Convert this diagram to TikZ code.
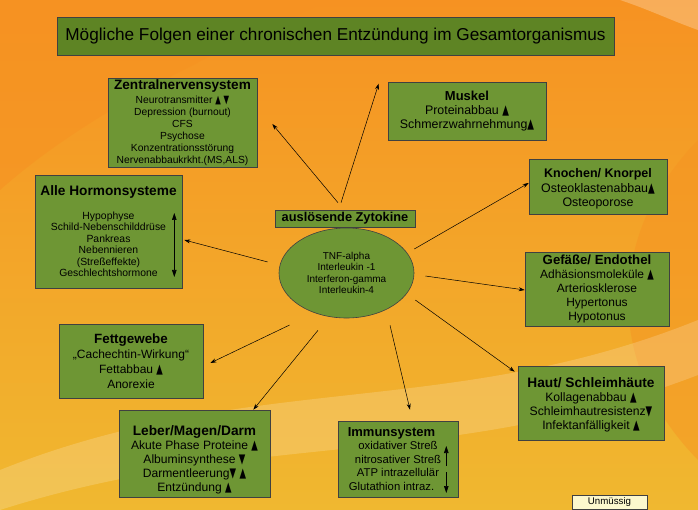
\documentclass[tikz,border=0pt]{standalone}
\usepackage{fontspec}
\setmainfont{Liberation Sans}
\newfontfamily\symb{DejaVu Sans}
\usetikzlibrary{arrows.meta,shapes.geometric}
\definecolor{boxgreen}{RGB}{110,150,52}
\definecolor{titlegreen}{RGB}{94,132,36}
\definecolor{bgorange}{RGB}{246,146,34}
\definecolor{bglight}{RGB}{252,192,110}
\definecolor{bgyellow}{RGB}{240,184,48}
\definecolor{notecolor}{RGB}{252,248,205}
\pgfdeclarelayer{background}
\pgfsetlayers{background,main}
\newcommand\auf{{\symb\scalebox{0.7}[1.1]{▲}}}
\newcommand\ab{{\symb\scalebox{0.7}[1.1]{▼}}}
\newcommand\fs[2]{\fontsize{#1}{#2}\selectfont}

\begin{document}
\begin{tikzpicture}[x=1pt,y=-1pt,
organ/.style={
  draw=black!75,
  fill=boxgreen,
  line width=0.6pt,
  align=center,
  inner sep=1pt},
pfeil/.style={
  draw=black,
  line width=0.5pt,
  -{Stealth[length=6pt,width=4pt]}},
innenpfeil/.style={
  draw=black,
  line width=0.6pt,
  -{Triangle[length=7pt,width=4.5pt]}},
]
\begin{pgfonlayer}{background}
\shade[top color=bgorange,middle color=bglight,bottom color=bgyellow] (0,0) rectangle (698,510);
\fill[bgorange,opacity=0.6] (0,0) -- (330,0) .. controls (220,50) and (90,110) .. (0,190) -- cycle;
\fill[bgorange,opacity=0.45] (698,140) .. controls (610,230) and (600,360) .. (698,460) -- cycle;
\fill[white,opacity=0.18] (0,470) .. controls (250,370) and (450,420) .. (698,320)
  -- (698,375) .. controls (450,470) and (250,430) .. (0,510) -- cycle;
\fill[white,opacity=0.25] (620,0) -- (698,0) -- (698,30) .. controls (670,20) and (650,10) .. cycle;
\end{pgfonlayer}

\node[organ,fill=titlegreen,minimum width=557pt,minimum height=38pt,font=\fs{17.2}{20}] (TIT) at (335.5,36)
  {Mögliche Folgen einer chronischen Entzündung im Gesamtorganismus};

\node[organ,minimum width=149pt,minimum height=89pt,font=\fs{10.3}{12}] (ZNS) at (182.5,122.5)
  {{\fs{13.6}{15}\bfseries Zentralnervensystem}\\[2pt]
   Neurotransmitter \auf\ \ab\\ Depression (burnout)\\ CFS\\ Psychose\\
   Konzentrationsstörung\\ Nervenabbaukrkht.(MS,ALS)};

\node[organ,minimum width=158pt,minimum height=58pt,font=\fs{12.4}{14}] (MUS) at (467,111)
  {{\fs{13}{15}\bfseries Muskel}\\ Proteinabbau \auf\\ Schmerzwahrnehmung\auf};

\node[organ,minimum width=138pt,minimum height=55pt,font=\fs{12.4}{14.5}] (KNO) at (598,186.5)
  {{\fs{12.5}{15}\bfseries\rule{0pt}{14pt}Knochen/ Knorpel}\\ Osteoklastenabbau\auf\\ Osteoporose};

\node[organ,minimum width=147pt,minimum height=113pt,font=\fs{10.4}{11.5}] (HOR) at (108.5,231.5)
  {{\fs{13.7}{15}\bfseries Alle Hormonsysteme}\\[12pt]
   Hypophyse\\ Schild-Nebenschilddrüse\\ Pankreas\\ Nebennieren\\ (Streßeffekte)\\ Geschlechtshormone};

\node[organ,minimum width=140pt,minimum height=17pt,font=\fs{12.8}{14}\bfseries] (ZYT) at (345,218.5)
  {auslösende Zytokine};

\node[organ,ellipse,minimum width=135pt,minimum height=90pt,font=\fs{10}{11.5}] (ELL) at (346.5,273)
  {TNF-alpha\\ Interleukin -1\\ Interferon-gamma\\ Interleukin-4};

\node[organ,minimum width=144pt,minimum height=74pt,font=\fs{12}{14}] (GEF) at (597,289)
  {{\fs{13.2}{15}\bfseries Gefäße/ Endothel}\\ Adhäsionsmoleküle \auf\\ Arteriosklerose\\ Hypertonus\\ Hypotonus};

\node[organ,minimum width=144pt,minimum height=74pt,font=\fs{12}{15}] (FETT) at (131,361)
  {{\fs{13.4}{15}\bfseries Fettgewebe}\\ „Cachechtin-Wirkung“\\ Fettabbau \auf\\ Anorexie};

\node[organ,minimum width=146pt,minimum height=74pt,font=\fs{12.2}{14}] (HAUT) at (591,403)
  {{\fs{13.7}{15}\bfseries\rule{0pt}{14pt}Haut/ Schleimhäute}\\ Kollagenabbau \auf\\ Schleimhautresistenz\ab\\ Infektanfälligkeit \auf};

\node[organ,minimum width=151pt,minimum height=87pt,font=\fs{12.1}{14}] (LEB) at (194.5,453.5)
  {{\fs{13.7}{15}\bfseries\rule{0pt}{22pt}Leber/Magen/Darm}\\ Akute Phase Proteine \auf\\ Albuminsynthese \ab\\
   Darmentleerung\ab\ \auf\\ Entzündung \auf};

\node[organ,minimum width=120pt,minimum height=76pt,font=\fs{11.3}{13.5}] (IMM) at (398,459)
  {{\fs{13}{15}\bfseries Immunsystem}\hspace*{13pt}\\ oxidativer Streß\hspace*{13pt}\\
   nitrosativer Streß\hspace*{13pt}\\ ATP intrazellulär\hspace*{13pt}\\ Glutathion intraz.\hspace*{13pt}};

\node[organ,fill=notecolor,minimum width=75pt,minimum height=14pt,inner sep=0pt,font=\fs{9.7}{11}] (UNM) at (609.5,502)
  {Unmüssig};

% Verbindungen von den Zytokinen
\draw[pfeil] ([xshift=-7pt,yshift=7pt]ZYT.north) -- ([xshift=15pt,yshift=-1.5pt]ZNS.east);
\draw[pfeil] ([xshift=-4pt,yshift=7pt]ZYT.north) -- ([xshift=-9pt,yshift=-2pt]MUS.north west);
\draw[pfeil] ([yshift=24pt]ELL.east) -- ([yshift=3.5pt]KNO.west);
\draw[pfeil] ([xshift=-11pt,yshift=11pt]ELL.west) -- ([xshift=2pt,yshift=-8.5pt]HOR.east);
\draw[pfeil] ([xshift=11pt,yshift=-3pt]ELL.east) -- ([yshift=-1pt]GEF.west);
\draw[pfeil] ([xshift=-9pt,yshift=-20pt]ELL.south west) -- ([xshift=7pt,yshift=-2pt]FETT.east);
\draw[pfeil] ([xshift=-28.5pt,yshift=-12pt]ELL.south) -- ([xshift=-17pt]LEB.north east);
\draw[pfeil] ([xshift=43.5pt,yshift=-7pt]ELL.south) -- ([xshift=12pt,yshift=11pt]IMM.north);
\draw[pfeil] ([xshift=1pt,yshift=-27pt]ELL.east) -- ([xshift=-3pt,yshift=-6pt]HAUT.north west);

% Pfeile in den Kaesten
\draw[innenpfeil,{Triangle[length=7pt,width=4.5pt]}-{Triangle[length=7pt,width=4.5pt]}]
  ([xshift=-8pt,yshift=18.5pt]HOR.east) -- ([xshift=-8pt,yshift=-45.5pt]HOR.east);
\draw[innenpfeil] ([xshift=-12pt,yshift=-7pt]IMM.east) -- ([xshift=-12pt,yshift=13pt]IMM.east);
\draw[innenpfeil] ([xshift=-12pt,yshift=-13pt]IMM.east) -- ([xshift=-12pt,yshift=-34pt]IMM.east);
\end{tikzpicture}
\end{document}
